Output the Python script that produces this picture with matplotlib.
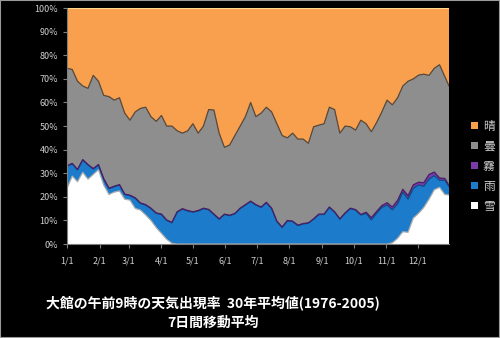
import matplotlib.pyplot as plt
import numpy as np

plt.rcParams['font.family'] = ['Noto Sans CJK JP', 'DejaVu Sans']

# 通日 (1/1 = 0), 5日ごと
days = list(range(0, 365, 5)) + [364]

# 各天気の出現率 (%)
snow = [23.6, 28.8, 26.4, 30.4, 27.5, 29.5, 31.5, 25.0, 21.0, 22.0,
        22.5, 19.0, 18.6, 15.1, 14.4, 12.3, 10.0, 7.0, 4.5, 2.0,
        0.3, 0, 0, 0, 0, 0, 0, 0, 0, 0,
        0, 0, 0, 0, 0, 0, 0, 0, 0, 0,
        0, 0, 0, 0, 0, 0, 0, 0, 0, 0,
        0, 0, 0, 0, 0, 0, 0, 0, 0, 0,
        0, 0, 0.5, 2.4, 5.2, 5.0, 11.0, 13.0, 15.5, 19.0,
        23.0, 24.0, 21.0, 20.8]
rain = [9.4, 5.2, 5.0, 5.2, 6.0, 2.3, 2.0, 2.5, 2.5, 2.3,
        2.5, 2.0, 1.9, 4.3, 2.8, 4.2, 5.0, 6.0, 8.0, 8.0,
        8.7, 13.5, 14.8, 14.0, 13.5, 14.0, 15.0, 14.5, 12.5, 10.5,
        12.5, 12.0, 12.8, 15.0, 16.5, 18.0, 16.5, 15.5, 17.5, 15.0,
        9.5, 7.0, 9.8, 9.5, 7.8, 8.5, 8.8, 10.5, 12.5, 12.5,
        15.5, 13.5, 10.5, 13.0, 15.0, 14.4, 12.3, 13.0, 10.2, 13.0,
        15.5, 16.5, 14.0, 14.6, 16.8, 14.0, 12.6, 12.0, 9.0, 8.5,
        6.0, 3.0, 6.0, 3.5]
fog = [0.2] * 57 + [0.5, 1.0, 0.8, 0.8, 1.0, 1.2, 1.5, 1.2, 1.5, 1.5,
                    1.2, 1.5, 2.0, 1.5, 1.0, 0.8, 0.6]
cloudy = [41.3, 39.8, 37.4, 31.2, 32.3, 39.5, 35.3, 35.3, 38.8, 36.5,
          36.8, 34.3, 31.8, 36.4, 40.1, 41.3, 38.8, 38.8, 41.8, 39.8,
          40.8, 34.3, 32.0, 33.8, 37.3, 32.8, 34.8, 42.3, 44.1, 36.3,
          28.3, 29.8, 33.0, 34.8, 37.3, 41.8, 37.3, 39.8, 40.3, 40.8,
          41.3, 38.8, 35.0, 37.3, 36.5, 35.8, 33.7, 39.0, 37.7, 38.3,
          42.3, 43.3, 36.3, 36.8, 34.5, 33.7, 40.0, 37.5, 36.4, 37.7,
          39.7, 43.5, 43.3, 43.5, 43.8, 48.5, 44.9, 45.4, 46.0, 42.0,
          44.0, 48.0, 43.2, 42.1]
sunny = [25.5, 26.0, 31.0, 33.0, 34.0, 28.5, 31.0, 37.0, 37.5, 39.0,
         38.0, 44.5, 47.5, 44.0, 42.5, 42.0, 46.0, 48.0, 45.5, 50.0,
         50.0, 52.0, 53.0, 52.0, 49.0, 53.0, 50.0, 43.0, 43.2, 53.0,
         59.0, 58.0, 54.0, 50.0, 46.0, 40.0, 46.0, 44.5, 42.0, 44.0,
         49.0, 54.0, 55.0, 53.0, 55.5, 55.5, 57.3, 50.3, 49.6, 49.0,
         42.0, 43.0, 53.0, 50.0, 50.3, 51.7, 47.5, 49.0, 52.4, 48.5,
         44.0, 39.0, 41.0, 38.0, 33.0, 31.0, 30.0, 28.4, 28.0, 28.5,
         25.5, 24.0, 29.0, 33.0]

labels = ['雪', '雨', '霧', '曇', '晴']
colors = ['#FFFFFF', '#1C7CCB', '#7A3AA8', '#8E8E8E', '#F9A04E']
edges = ['#B0B0B0', '#0F4E86', '#4A1F6A', '#5A4A3A', '#F9A04E']

month_days = [0, 31, 59, 90, 120, 151, 181, 212, 243, 273, 304, 334]
month_labels = ['%d/1' % m for m in range(1, 13)]

# 100%積み上げ
data = np.array([snow, rain, fog, cloudy, sunny], dtype=float)
data = data / data.sum(axis=0) * 100
cum = np.cumsum(data, axis=0)

fig = plt.figure(figsize=(5, 3.38), dpi=100, facecolor='black')
fig.patches.append(plt.Rectangle((0, 0), 1, 1, transform=fig.transFigure,
                                 fill=False, edgecolor='#9A9A9A', lw=1.5))
ax = fig.add_axes([0.134, 0.278, 0.764, 0.698])
ax.set_facecolor('black')

polys = ax.stackplot(days, data, colors=colors, labels=labels, lw=0)
for i in range(4):
    ax.plot(days, cum[i], color=edges[i], lw=0.9)
ax.axhline(100, color='#FFD890', lw=1.5)

ax.set_xlim(0, 364)
ax.set_ylim(0, 100)
ax.set_xticks(month_days)
ax.set_xticklabels(month_labels)
ax.set_yticks(range(0, 101, 10))
ax.set_yticklabels(['%d%%' % v for v in range(0, 101, 10)])
ax.tick_params(colors='#7F7F7F', labelcolor='#D0D0D0', labelsize=6.5,
               length=3, width=0.8)
ax.tick_params(axis='x', pad=6)
for s in ['top', 'right']:
    ax.spines[s].set_visible(False)
for s in ['left', 'bottom']:
    ax.spines[s].set_color('#7F7F7F')

h, l = ax.get_legend_handles_labels()
leg = ax.legend(h[::-1], l[::-1], loc='center left', bbox_to_anchor=(1.03, 0.33),
                frameon=False, fontsize=8.5, labelcolor='#D0D0D0',
                handlelength=0.6, handleheight=0.6, handletextpad=0.4,
                labelspacing=0.6)

fig.text(0.426, 0.103, '大館の午前9時の天気出現率  30年平均値(1976-2005)',
         color='white', fontsize=10, fontweight='bold', ha='center', va='center')
fig.text(0.426, 0.046, '7日間移動平均',
         color='white', fontsize=10, fontweight='bold', ha='center', va='center')

fig.savefig('out.png', dpi=100, facecolor='black')
